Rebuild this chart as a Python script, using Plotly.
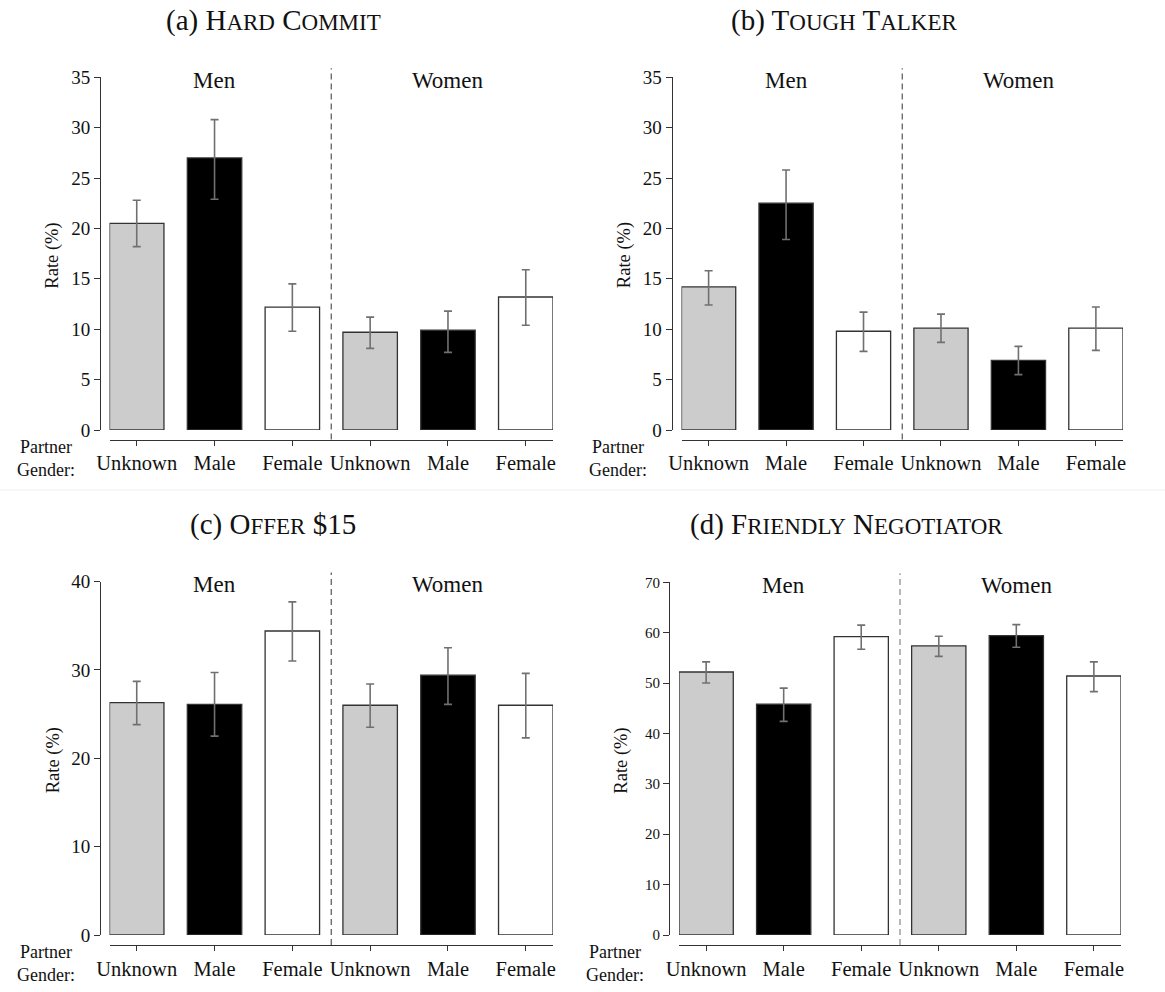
import plotly.graph_objects as go

# ---------------- data ----------------
partner_labels = ["Unknown", "Male", "Female", "Unknown", "Male", "Female"]
groups = ["Men", "Women"]
bar_colors = ["#cccccc", "#000000", "#ffffff", "#cccccc", "#000000", "#ffffff"]

hard_commit_rate = [20.5, 27.0, 12.2, 9.7, 9.9, 13.2]
hard_commit_lo = [18.2, 22.9, 9.8, 8.1, 7.7, 10.4]
hard_commit_hi = [22.8, 30.8, 14.5, 11.2, 11.8, 15.9]

tough_talker_rate = [14.2, 22.5, 9.8, 10.1, 6.9, 10.1]
tough_talker_lo = [12.4, 18.9, 7.8, 8.7, 5.5, 7.9]
tough_talker_hi = [15.8, 25.8, 11.7, 11.5, 8.3, 12.2]

offer15_rate = [26.3, 26.1, 34.4, 26.0, 29.4, 26.0]
offer15_lo = [23.8, 22.5, 31.0, 23.5, 26.1, 22.3]
offer15_hi = [28.7, 29.7, 37.7, 28.4, 32.5, 29.6]

friendly_rate = [52.2, 45.8, 59.2, 57.4, 59.4, 51.4]
friendly_lo = [50.0, 42.4, 56.7, 55.3, 57.1, 48.3]
friendly_hi = [54.2, 49.0, 61.5, 59.3, 61.6, 54.2]

y_max = [35, 35, 40, 70]
y_step = [5, 5, 10, 10]

# ---------------- layout helpers ----------------
W, H = 1165, 992
FONT = "Liberation Serif"


def fx(px):
    return px / W


def fy(py):
    return 1 - py / H


def smallcaps(word, small=23):
    return word[0] + f"<span style='font-size:{small}px'>{word[1:].upper()}</span>"


def title_text(prefix, words):
    return prefix + " " + " ".join(smallcaps(w) for w in words)


panels = [
    dict(rate=hard_commit_rate, lo=hard_commit_lo, hi=hard_commit_hi,
         title=title_text("(a)", ["Hard", "Commit"]), title_x=273,
         xl=109.5, xr=553, yaxis_x=100, y0=430, ytop=77.3, xline=439.5, title_y=21, tickfont=19),
    dict(rate=tough_talker_rate, lo=tough_talker_lo, hi=tough_talker_hi,
         title=title_text("(b)", ["Tough", "Talker"]), title_x=844,
         xl=681.5, xr=1123, yaxis_x=671.5, y0=430, ytop=77.3, xline=439.5, title_y=21, tickfont=19),
    dict(rate=offer15_rate, lo=offer15_lo, hi=offer15_hi,
         title=title_text("(c)", ["Offer"]) + " $15", title_x=273,
         xl=109.5, xr=553, yaxis_x=100, y0=935, ytop=581.5, xline=945, title_y=524, tickfont=19),
    dict(rate=friendly_rate, lo=friendly_lo, hi=friendly_hi,
         title=title_text("(d)", ["Friendly", "Negotiator"]), title_x=846,
         xl=679, xr=1121, yaxis_x=669, y0=935, ytop=582.3, xline=945, title_y=524, tickfont=15),
]

fig = go.Figure()
layout = dict(
    width=W, height=H, autosize=False,
    margin=dict(l=0, r=0, t=0, b=0, autoexpand=False),
    paper_bgcolor="white", plot_bgcolor="rgba(0,0,0,0)",
    showlegend=False, bargap=0.3,
    font=dict(family=FONT, color="#111"),
)
annotations = []
shapes = []

xs = list(range(6))
for i, p in enumerate(panels):
    k = "" if i == 0 else str(i + 1)
    xa, ya = "x" + k, "y" + k
    err_plus = [h - r for h, r in zip(p["hi"], p["rate"])]
    err_minus = [r - l for r, l in zip(p["rate"], p["lo"])]
    fig.add_trace(go.Bar(
        x=xs, y=p["rate"], width=0.7, xaxis=xa, yaxis=ya,
        marker=dict(color=bar_colors, line=dict(color="#333333", width=1.3)),
        error_y=dict(type="data", symmetric=False, array=err_plus, arrayminus=err_minus,
                     color="#707070", thickness=1.6, width=4),
        hoverinfo="skip",
    ))
    layout["xaxis" + k] = dict(
        domain=[fx(p["xl"]), fx(p["xr"])], range=[-0.35, 5.35],
        anchor="free", position=fy(p["xline"]), automargin=False,
        tickmode="array", tickvals=xs, ticktext=partner_labels,
        ticks="outside", ticklen=5, tickcolor="#333", tickwidth=1,
        showline=True, linecolor="#333", linewidth=1,
        showgrid=False, zeroline=False, fixedrange=True,
        tickfont=dict(family=FONT, size=20.5, color="#111"),
    )
    layout["yaxis" + k] = dict(
        domain=[fy(p["y0"]), fy(p["ytop"])], range=[0, y_max[i]],
        anchor="free", position=fx(p["yaxis_x"]), automargin=False,
        tickmode="linear", tick0=0, dtick=y_step[i],
        ticks="outside", ticklen=6, tickcolor="#333", tickwidth=1,
        showline=True, linecolor="#333", linewidth=1,
        showgrid=False, zeroline=False, fixedrange=True,
        tickfont=dict(family=FONT, size=p["tickfont"], color="#111"),
    )
    # dashed separator between Men and Women
    shapes.append(dict(type="line", xref=xa, yref="paper", x0=2.5, x1=2.5,
                       y0=fy(p["xline"]), y1=fy(p["ytop"] - 9),
                       line=dict(color="#555" if i < 3 else "#888", width=1.2, dash="6px,4px")))
    # panel title
    annotations.append(dict(text=p["title"], xref="paper", yref="paper",
                            x=fx(p["title_x"]), y=fy(p["title_y"]),
                            xanchor="center", yanchor="middle", showarrow=False,
                            font=dict(family=FONT, size=29, color="#111")))
    # group labels
    for g, gx in zip(groups, [1, 4]):
        annotations.append(dict(text=g, xref=xa, yref="paper", x=gx, y=fy(p["ytop"] + 3),
                                xanchor="center", yanchor="middle", showarrow=False,
                                font=dict(family=FONT, size=23, color="#111")))
    # y-axis title
    annotations.append(dict(text="Rate (%)", xref="paper", yref="paper",
                            x=fx(p["yaxis_x"] - 47), y=fy((p["y0"] + p["ytop"]) / 2 + 2),
                            textangle=-90, xanchor="center", yanchor="middle", showarrow=False,
                            font=dict(family=FONT, size=18.5, color="#111")))
    # partner gender label
    annotations.append(dict(text="Partner<br>Gender:", xref="paper", yref="paper",
                            x=fx(p["yaxis_x"] - 54), y=fy(p["xline"] + 18.5),
                            xanchor="center", yanchor="middle", showarrow=False, align="center",
                            font=dict(family=FONT, size=18, color="#111")))

# faint separator between rows
shapes.append(dict(type="line", xref="paper", yref="paper", x0=0, x1=1, y0=fy(490), y1=fy(490),
                   line=dict(color="#f0f0f0", width=1)))

layout["annotations"] = annotations
layout["shapes"] = shapes
fig.update_layout(**layout)

fig.write_html("out.html", config={"displayModeBar": False},
               post_script="document.body.style.margin='0';document.body.style.overflow='hidden';")
